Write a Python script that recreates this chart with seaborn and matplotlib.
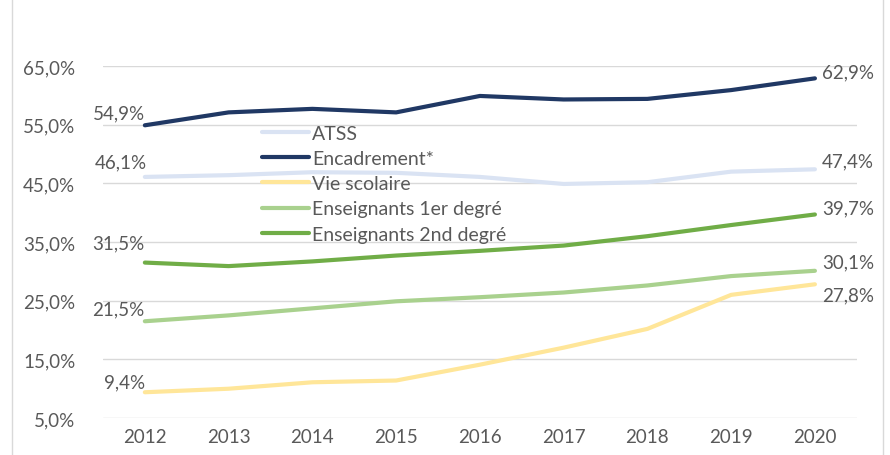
import pandas as pd
import matplotlib.pyplot as plt
import seaborn as sns
from matplotlib.lines import Line2D

years = [2012, 2013, 2014, 2015, 2016, 2017, 2018, 2019, 2020]
atss = [46.1, 46.4, 46.9, 46.8, 46.1, 44.9, 45.2, 47.0, 47.4]
encadrement = [54.9, 57.1, 57.7, 57.1, 59.9, 59.3, 59.4, 60.9, 62.9]
vie_scolaire = [9.4, 10.0, 11.1, 11.4, 14.1, 17.0, 20.2, 26.0, 27.8]
ens_1er = [21.5, 22.5, 23.7, 24.9, 25.6, 26.4, 27.6, 29.2, 30.1]
ens_2nd = [31.5, 30.9, 31.7, 32.7, 33.5, 34.4, 36.0, 37.9, 39.7]

series_names = ["ATSS", "Encadrement*", "Vie scolaire",
                "Enseignants 1er degré", "Enseignants 2nd degré"]
series_values = [atss, encadrement, vie_scolaire, ens_1er, ens_2nd]
colors = ["#DAE3F3", "#203864", "#FFE699", "#A9D18E", "#70AD47"]

# label offsets (pixels) for first / last point labels
first_offsets = [(2, 15), (0, 12), (0, 10), (0, 12), (0, 20)]
last_offsets = [(7, 8), (7, 6), (7, -11), (7, 9), (7, 7)]

rows = []
for name, vals in zip(series_names, series_values):
    for i, (yr, v) in enumerate(zip(years, vals)):
        rows.append({"idx": i, "year": yr, "value": v, "serie": name})
df = pd.DataFrame(rows)

sns.set_style("white")
plt.rcParams['font.family'] = ['Lato', 'DejaVu Sans']
txt_color = "#595959"
fs = 13.5

fig = plt.figure(figsize=(8.9, 4.56), dpi=100)
ax = fig.add_axes([0.1157, 0.081, 0.847, 0.772])

sns.lineplot(data=df, x="idx", y="value", hue="serie", hue_order=series_names,
             palette=colors, linewidth=3, ax=ax, legend=False,
             solid_capstyle="round")

ax.set_xlim(-0.5, len(years) - 0.5)
ax.set_ylim(5, 65)
ax.set_yticks([5, 15, 25, 35, 45, 55, 65])
ax.set_yticklabels([f"{t:.1f}%".replace(".", ",") for t in [5, 15, 25, 35, 45, 55, 65]])
ax.set_xticks(range(len(years)))
ax.set_xticklabels([str(y) for y in years])
ax.tick_params(axis="both", length=0, labelsize=fs, labelcolor=txt_color)
ax.tick_params(axis="y", pad=20)
ax.tick_params(axis="x", pad=7)
ax.set_xlabel("")
ax.set_ylabel("")
ax.grid(axis="y", color="#D9D9D9", linewidth=1)
ax.set_axisbelow(True)
for s in ax.spines.values():
    s.set_visible(False)

for name, vals, fo, lo in zip(series_names, series_values, first_offsets, last_offsets):
    ax.annotate(f"{vals[0]:.1f}%".replace(".", ","), (0, vals[0]),
                xytext=fo, textcoords="offset pixels", ha="right", va="center",
                fontsize=fs, color=txt_color)
    ax.annotate(f"{vals[-1]:.1f}%".replace(".", ","), (len(years) - 1, vals[-1]),
                xytext=lo, textcoords="offset pixels", ha="left", va="center",
                fontsize=fs, color=txt_color)

handles = [Line2D([0], [0], color=c, linewidth=3, solid_capstyle="round") for c in colors]
leg = ax.legend(handles, series_names, loc="upper left", bbox_to_anchor=(0.2, 0.855),
                frameon=False, fontsize=14, handlelength=2.45, handletextpad=0.15,
                labelspacing=0.42, borderaxespad=0)
for t in leg.get_texts():
    t.set_color(txt_color)

# chart area border
fig.add_artist(Line2D([12 / 890, 12 / 890], [0, 1], color="#D9D9D9", linewidth=1))
fig.add_artist(Line2D([883 / 890, 883 / 890], [0, 1], color="#D9D9D9", linewidth=1))

fig.savefig("out.png", dpi=100)
